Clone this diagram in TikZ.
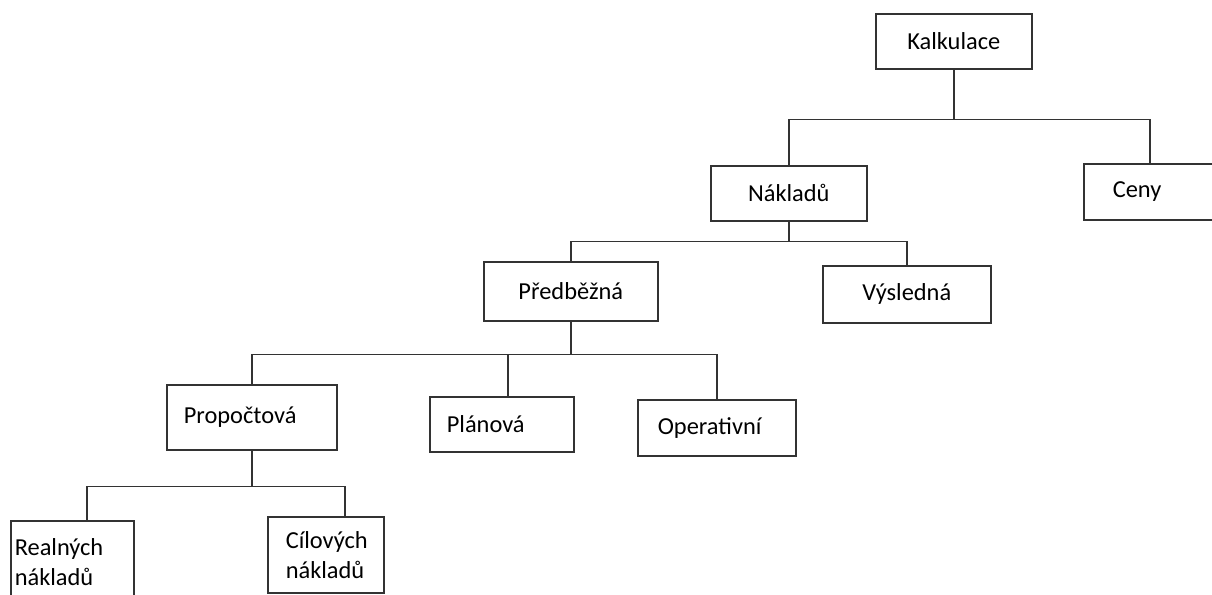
\documentclass[tikz,border=0pt]{standalone}
\usepackage{fontspec}
\setmainfont{Carlito}

\begin{document}
\begin{tikzpicture}[x=1pt,y=-1pt,line width=1.6pt,draw=black!80,
                    box node/.style={draw,rectangle,anchor=north west,inner sep=0pt,
                      font=\fontsize{24.4}{30}\selectfont},
                    left node/.style={box node,align=left}]

  \useasboundingbox (0,0) rectangle (1212,594);

  \node[box node,minimum width=156pt,minimum height=55pt] (kalk) at (875,13) {Kalkulace};
  \node[box node,minimum width=156pt,minimum height=55pt] (naklady) at (710,165) {Nákladů};
  \node[left node,minimum width=150pt,minimum height=56pt,text width=92pt,inner xsep=29pt] (ceny) at (1083,163) {Ceny};
  \node[box node,minimum width=174pt,minimum height=59pt] (predb) at (483,261) {Předběžná};
  \node[box node,minimum width=168pt,minimum height=57pt] (vysl) at (822,265) {Výsledná};
  \node[left node,minimum width=170pt,minimum height=65pt,text width=136pt,inner xsep=17pt] (propoc) at (166,384) {Propočtová};
  \node[left node,minimum width=144pt,minimum height=55pt,text width=110pt,inner xsep=17pt] (planova) at (429,396) {Plánová};
  \node[left node,minimum width=158pt,minimum height=56pt,text width=118pt,inner xsep=20pt] (operat) at (637,399) {Operativní};
  \node[left node,minimum width=123pt,minimum height=82pt,text width=115pt,inner xsep=4pt] (realn) at (10,520) {Realných\\nákladů};
  \node[left node,minimum width=116pt,minimum height=76pt,text width=80pt,inner xsep=18pt] (cilov) at (267,516) {Cílových\\nákladů};

  \draw (kalk.south) -- ++(0,50) coordinate (b1);
  \draw (b1) -| (naklady.north);
  \draw (b1) -| ([xshift=-9pt]ceny.north);

  \draw (naklady.south) -- ++(0,20) coordinate (b2);
  \draw (b2) -| (predb.north);
  \draw (b2) -| (vysl.north);

  \draw (predb.south) -- ++(0,33) coordinate (b3);
  \draw (b3) -| (propoc.north);
  \draw (b3) -| ([xshift=6pt]planova.north);
  \draw (b3) -| (operat.north);

  \draw (propoc.south) -- ++(0,36) coordinate (b4);
  \draw (b4) -| ([xshift=14.5pt]realn.north);
  \draw (b4) -| ([xshift=19pt]cilov.north);
\end{tikzpicture}
\end{document}
